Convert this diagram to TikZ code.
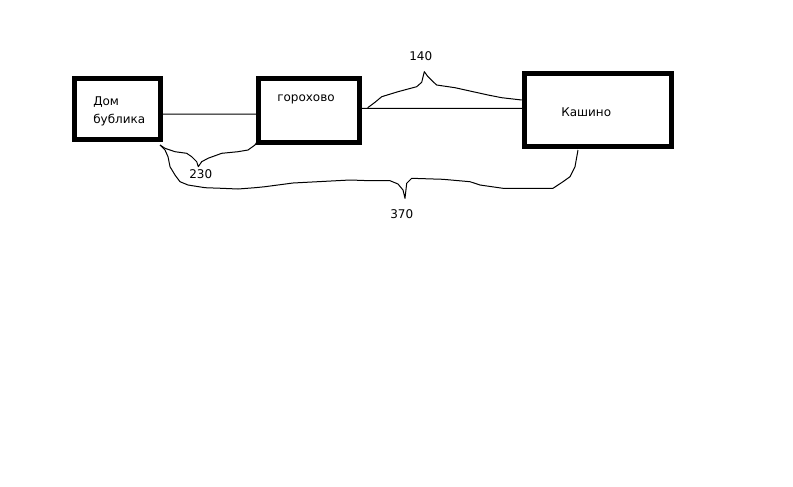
\documentclass[tikz,border=0pt]{standalone}
\usepackage{fontspec}
\setmainfont{DejaVu Sans}
\begin{document}
\begin{tikzpicture}[x=0.75pt,y=-0.75pt,
  box/.style={draw,line width=3.75pt,inner sep=0pt,outer sep=0pt},
  thin/.style={line width=0.75pt,line join=round},
  lbl/.style={font=\fontsize{9pt}{13.5pt}\selectfont,inner sep=0pt,anchor=base west}]
\useasboundingbox (0,0) rectangle (793,486);
% boxes
\node[box,minimum width=64.5pt,minimum height=46.2pt] (b1) at (117.8,109) {};
\node[box,minimum width=75.5pt,minimum height=48.2pt] (b2) at (308.8,110.3) {};
\node[box,minimum width=110.5pt,minimum height=54.75pt] (b3) at (597.8,110) {};
% texts
\node[lbl] (t1a) at (93,105) {Дом};
\node[lbl] (t1b) at (93,123) {бублика};
\node[lbl] (t2) at (277,101.7) {горохово};
\node[lbl] (t3) at (561,116.7) {Кашино};
\node[lbl] (d140) at (409,60) {140};
\node[lbl] (d230) at (189,178.3) {230};
\node[lbl] (d370) at (390,218.3) {370};
% connectors
\draw[thin] ([yshift=-5*0.75pt]b1.east) -- ([yshift=-3.7*0.75pt]b2.west);
\draw[thin] ([yshift=2*0.75pt]b2.east) -- ([yshift=1.7*0.75pt]b3.west);
% brace 140
\draw[thin] (367.7,107.7) -- (375,102.3) -- (381.7,96.7) -- (398,91.7) -- (416.7,86.7)
  -- (421.7,82.3) -- (424.3,71.7) -- (428,76.7) -- (433,81.7) -- (436.7,85)
  -- (455,87.7) -- (488,95) -- (501.7,97.7) -- (521.7,100);
% brace 230
\draw[thin] (160,145) -- (165,148.3) -- (175,151.7) -- (186.7,153.3) -- (191.7,156.7)
  -- (196.7,161.7) -- (198.3,166.7) -- (201.7,161.7) -- (208,158.3) -- (221.7,153.3)
  -- (238,151.7) -- (248,150) -- (255,145) -- (256.7,142.3);
% brace 370
\draw[thin] (160,145) -- (165,150) -- (168,156.7) -- (170,166.7) -- (175,175)
  -- (180,181.7) -- (188,185) -- (205,187.7) -- (221.7,188.3) -- (238,189)
  -- (255,187.7) -- (265,186.7) -- (293,183) -- (350,180) -- (370,180.7) -- (390,180.7)
  -- (398,184) -- (403,190) -- (405,198.3) -- (406.7,183.3) -- (411.7,178.3)
  -- (443,179.3) -- (470,181.7) -- (480,185) -- (503,188.3) -- (553,188.3)
  -- (563,181.7) -- (570,176.7) -- (575,166.7) -- (578,150);
\end{tikzpicture}
\end{document}
